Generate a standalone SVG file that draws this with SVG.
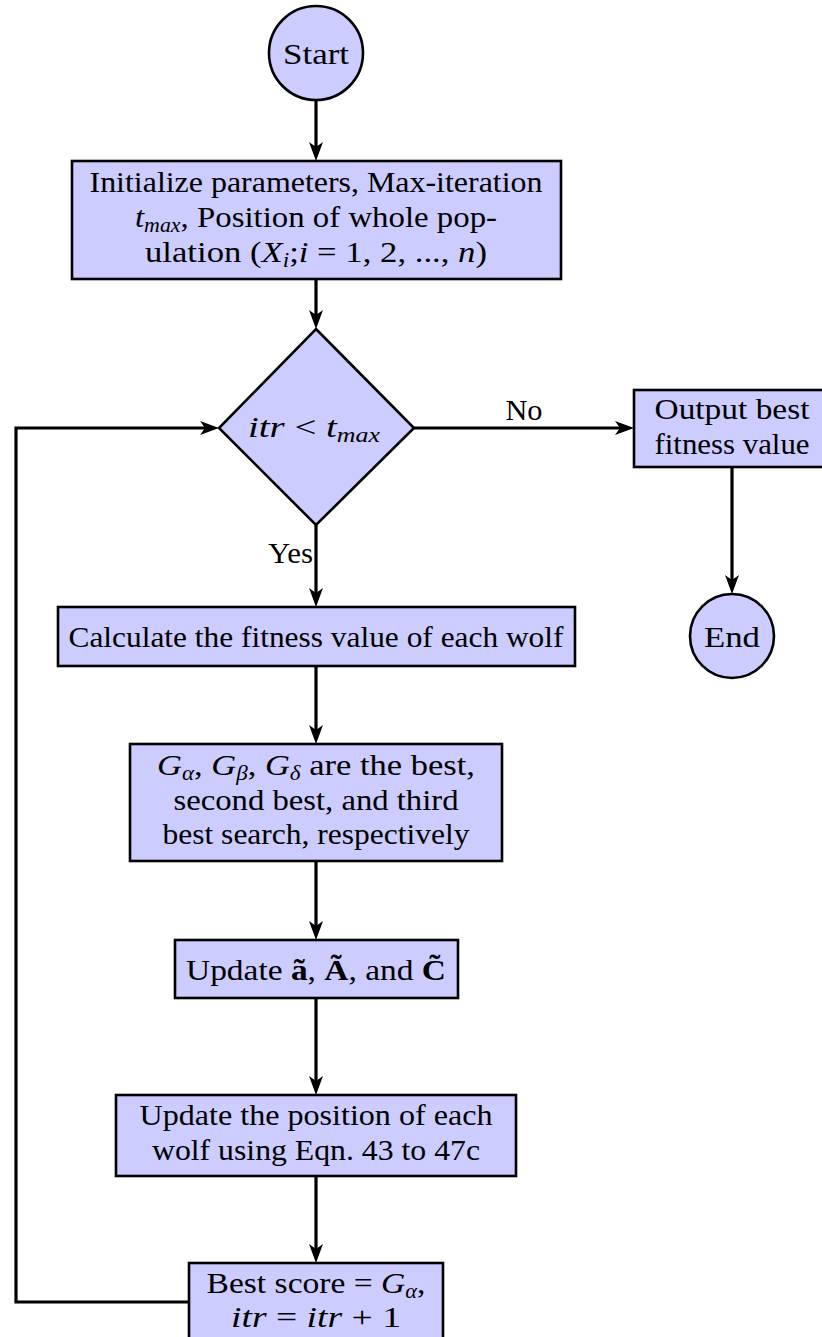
<svg xmlns="http://www.w3.org/2000/svg" width="822" height="1337" viewBox="0 0 822 1337">
<style>
.nd{fill:#CCCCFF;stroke:#000;stroke-width:2.6}
.cn{fill:none;stroke:#000;stroke-width:3.2;stroke-linejoin:miter}
text{font-family:"Liberation Serif","Times New Roman",serif;font-size:30px;fill:#000}
.c{text-anchor:middle}
.i{font-style:italic}
.s{font-size:20px;font-style:italic}
.b{font-weight:bold}
</style>
<defs>
<marker id="ah" markerUnits="userSpaceOnUse" markerWidth="22" markerHeight="18" viewBox="-20 -9 22 18" refX="-10" refY="0" orient="auto">
<path d="M0,0 L-19,-7 L-14,0 L-19,7 Z" fill="#000"/>
</marker>
</defs>
<g id="connectors">
<path class="cn" d="M316,100 L316,151" marker-end="url(#ah)"/>
<path class="cn" d="M316,279 L316,319" marker-end="url(#ah)"/>
<path class="cn" d="M414,428 L624,428" marker-end="url(#ah)"/>
<path class="cn" d="M732,467 L732,584" marker-end="url(#ah)"/>
<path class="cn" d="M316,525 L316,597" marker-end="url(#ah)"/>
<path class="cn" d="M316,666 L316,734" marker-end="url(#ah)"/>
<path class="cn" d="M316,861 L316,930" marker-end="url(#ah)"/>
<path class="cn" d="M316,998 L316,1085" marker-end="url(#ah)"/>
<path class="cn" d="M316,1176 L316,1253" marker-end="url(#ah)"/>
<path class="cn" d="M189,1302 L16,1302 L16,428 L209,428" marker-end="url(#ah)"/>
<text x="524" y="420" class="c" textLength="37" lengthAdjust="spacingAndGlyphs">No</text>
<text x="313" y="563" text-anchor="end" textLength="45" lengthAdjust="spacingAndGlyphs">Yes</text>
</g>
<g id="start">
<circle class="nd" cx="316" cy="53" r="47" stroke-width="2.2"/>
<text x="316" y="64" class="c" textLength="66" lengthAdjust="spacingAndGlyphs">Start</text>
</g>
<g id="init">
<rect class="nd" x="72" y="161" width="489" height="118"/>
<text x="316" y="192" class="c" textLength="453" lengthAdjust="spacingAndGlyphs">Initialize parameters, Max-iteration</text>
<text x="316" y="227" class="c" textLength="362" lengthAdjust="spacingAndGlyphs"><tspan class="i">t</tspan><tspan class="s" dy="5">max</tspan><tspan dy="-5">, Position of whole pop-</tspan></text>
<text x="316" y="262" class="c" textLength="342" lengthAdjust="spacingAndGlyphs">ulation (<tspan class="i">X</tspan><tspan class="s" dy="5">i</tspan><tspan dy="-5">;</tspan><tspan class="i">i</tspan> = 1, 2, ..., <tspan class="i">n</tspan>)</text>
</g>
<g id="decision">
<polygon class="nd" points="316,329 414,428 316,525 219,428" stroke-width="2.4"/>
<text x="314" y="437" class="c" textLength="132" lengthAdjust="spacingAndGlyphs"><tspan class="i">itr</tspan> &lt; <tspan class="i">t</tspan><tspan class="s" dy="5">max</tspan></text>
</g>
<g id="output">
<rect class="nd" x="634" y="390" width="200" height="77"/>
<text x="732" y="419" class="c" textLength="155" lengthAdjust="spacingAndGlyphs">Output best</text>
<text x="732" y="454" class="c" textLength="155" lengthAdjust="spacingAndGlyphs">fitness value</text>
</g>
<g id="end">
<circle class="nd" cx="732" cy="636" r="42" stroke-width="2.2"/>
<text x="732" y="647" class="c" textLength="56" lengthAdjust="spacingAndGlyphs">End</text>
</g>
<g id="calculate">
<rect class="nd" x="58" y="607" width="517" height="59"/>
<text x="316" y="647" class="c" textLength="495" lengthAdjust="spacingAndGlyphs">Calculate the fitness value of each wolf</text>
</g>
<g id="leaders">
<rect class="nd" x="130" y="744" width="372" height="117"/>
<text x="316" y="775" class="c" textLength="318" lengthAdjust="spacingAndGlyphs"><tspan class="i">G</tspan><tspan class="s" dy="5">α</tspan><tspan dy="-5">, </tspan><tspan class="i">G</tspan><tspan class="s" dy="5">β</tspan><tspan dy="-5">, </tspan><tspan class="i">G</tspan><tspan class="s" dy="5">δ</tspan><tspan dy="-5"> are the best,</tspan></text>
<text x="316" y="810" class="c" textLength="285" lengthAdjust="spacingAndGlyphs">second best, and third</text>
<text x="316" y="844" class="c" textLength="307" lengthAdjust="spacingAndGlyphs">best search, respectively</text>
</g>
<g id="update-coeff">
<rect class="nd" x="175" y="940" width="283" height="58"/>
<text x="316" y="980" class="c" textLength="260" lengthAdjust="spacingAndGlyphs">Update <tspan class="b">ã</tspan>, <tspan class="b">Ã</tspan>, and <tspan class="b">C̃</tspan></text>
</g>
<g id="update-pos">
<rect class="nd" x="116" y="1095" width="400" height="81"/>
<text x="316" y="1125" class="c" textLength="353" lengthAdjust="spacingAndGlyphs">Update the position of each</text>
<text x="316" y="1160" class="c" textLength="328" lengthAdjust="spacingAndGlyphs">wolf using Eqn.  43 to 47c</text>
</g>
<g id="best">
<rect class="nd" x="189" y="1263" width="254" height="90"/>
<text x="316" y="1293" class="c" textLength="219" lengthAdjust="spacingAndGlyphs">Best score = <tspan class="i">G</tspan><tspan class="s" dy="5">α</tspan><tspan dy="-5">,</tspan></text>
<text x="316" y="1327" class="c" textLength="170" lengthAdjust="spacingAndGlyphs"><tspan class="i">itr</tspan> = <tspan class="i">itr</tspan> + 1</text>
</g>
</svg>
